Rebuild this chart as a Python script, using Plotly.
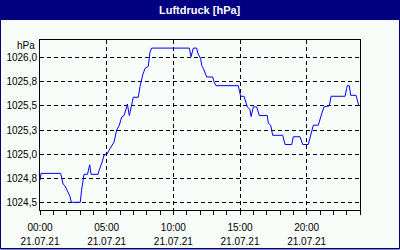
import plotly.graph_objects as go

# hours since 00:00 on 21.07.21
hours = [0.0, 0.075, 1.55, 1.65, 1.73, 1.88, 2.03, 2.1, 2.25, 2.35, 3.02, 3.11, 3.23, 3.3, 3.56, 3.73,
         3.83, 4.35, 4.43, 4.58, 4.69, 4.8, 5.03, 5.18, 5.38, 5.55, 5.75, 5.95, 6.13, 6.3, 6.5, 6.55,
         6.7, 6.83, 7.0, 7.37, 7.5, 7.7, 7.88, 8.12, 8.25, 8.38, 11.2, 11.33, 11.5, 11.75, 11.83,
         12.05, 12.13, 12.25, 12.38, 12.5, 12.95, 13.05, 13.2, 14.87, 14.95, 15.05, 15.3, 15.45,
         15.55, 15.75, 15.83, 15.95, 16.0, 16.25, 16.37, 16.45, 17.05, 17.12, 17.3, 17.45, 18.2,
         18.3, 18.38, 18.88, 19.0, 19.5, 19.63, 19.7, 20.12, 20.25, 20.38, 20.5, 20.87, 21.0, 21.13,
         21.3, 21.7, 21.83, 22.88, 23.0, 23.05, 23.2, 23.3, 23.7, 23.8, 23.9, 24.0]
pressure = [1024.73, 1024.80, 1024.80, 1024.75, 1024.69, 1024.67, 1024.62, 1024.59, 1024.56, 1024.50,
            1024.50, 1024.62, 1024.75, 1024.79, 1024.79, 1024.89, 1024.79, 1024.79, 1024.83, 1024.88,
            1024.93, 1024.99, 1025.00, 1025.04, 1025.09, 1025.125, 1025.25, 1025.30, 1025.385, 1025.40,
            1025.49, 1025.52, 1025.40, 1025.47, 1025.59, 1025.59, 1025.70, 1025.82, 1025.89, 1025.91,
            1026.06, 1026.10, 1026.10, 1026.01, 1026.10, 1026.10, 1026.05, 1025.99, 1025.92, 1025.89,
            1025.85, 1025.80, 1025.80, 1025.75, 1025.71, 1025.71, 1025.66, 1025.60, 1025.60, 1025.54,
            1025.49, 1025.46, 1025.39, 1025.46, 1025.49, 1025.49, 1025.44, 1025.40, 1025.40, 1025.32,
            1025.30, 1025.195, 1025.195, 1025.125, 1025.10, 1025.10, 1025.18, 1025.18, 1025.125, 1025.10,
            1025.10, 1025.16, 1025.23, 1025.30, 1025.30, 1025.37, 1025.42, 1025.49, 1025.50, 1025.60,
            1025.60, 1025.68, 1025.71, 1025.71, 1025.61, 1025.61, 1025.56, 1025.51, 1025.50]

x_tickvals = [0, 5, 10, 15, 20]
x_time_text = ["00:00", "05:00", "10:00", "15:00", "20:00"]
x_date_text = ["21.07.21", "21.07.21", "21.07.21", "21.07.21", "21.07.21"]
y_tickvals = [1024.5, 1024.75, 1025.0, 1025.25, 1025.5, 1025.75, 1026.0]
y_ticktext = ["1024,5", "1024,8", "1025,0", "1025,3", "1025,5", "1025,8", "1026,0"]

W, H = 400, 250
L, R, T, B = 40, 360, 40, 210
NAVY = "#000080"
BG = "#F8FCF8"
FONT = "Liberation Sans"


def px(xp):
    return (xp - L) / (R - L)


def py(yp):
    return (B - yp) / (B - T)


fig = go.Figure()
fig.add_trace(go.Scatter(x=hours, y=pressure, mode="lines",
                         line=dict(color="#0000FF", width=1), hoverinfo="skip"))
# invisible trace to activate the date-label axis
fig.add_trace(go.Scatter(x=[hours[0]], y=[pressure[0]], xaxis="x2", mode="lines",
                         line=dict(width=0), hoverinfo="skip", showlegend=False))

grid = dict(showgrid=True, gridcolor="black", gridwidth=1, griddash="4px,3px")
fig.update_layout(
    xaxis=dict(range=[0, 24], tickvals=x_tickvals, ticktext=x_time_text,
               showline=True, linecolor="black", linewidth=1, mirror=True,
               ticks="outside", ticklen=4, tickcolor="black", tickwidth=1,
               minor=dict(dtick=1, ticks="outside", ticklen=4, tickcolor="black", showgrid=False),
               zeroline=False, ticklabelstandoff=4, automargin=False,
               tickfont=dict(family=FONT, size=10, color="black"), **grid),
    xaxis2=dict(range=[0, 24], tickvals=x_tickvals, ticktext=x_date_text, overlaying="x",
                anchor="y", side="bottom", showline=False, showgrid=False, zeroline=False,
                ticks="", ticklabelstandoff=24, automargin=False,
                tickfont=dict(family=FONT, size=10, color="black")),
    yaxis=dict(range=[1024.42, 1026.184], tickvals=y_tickvals, ticktext=y_ticktext,
               showline=True, linecolor="black", linewidth=1, mirror=True,
               ticks="", zeroline=False, automargin=False,
               tickfont=dict(family=FONT, size=10, color="black"), **grid),
)

shapes = [
    dict(type="rect", xref="paper", yref="paper", x0=px(0), x1=px(W), y0=py(0), y1=py(20),
         fillcolor=NAVY, line=dict(width=0), layer="below"),
    dict(type="rect", xref="paper", yref="paper", x0=px(0.5), x1=px(W - 0.5), y0=py(0.5), y1=py(H - 1),
         fillcolor="rgba(0,0,0,0)", line=dict(color=NAVY, width=1)),
    dict(type="line", xref="paper", yref="paper", x0=px(0), x1=px(W), y0=py(H - 1.5), y1=py(H - 1.5),
         line=dict(color=NAVY, width=1)),
]
annotations = [
    dict(text="<b>Luftdruck [hPa]</b>", xref="paper", yref="paper", x=px(200), y=py(10),
         showarrow=False, xanchor="center", yanchor="middle",
         font=dict(family=FONT, size=11, color="white")),
    dict(text="hPa", xref="paper", yref="paper", x=px(37), y=py(45),
         showarrow=False, xanchor="right", yanchor="middle",
         font=dict(family=FONT, size=10, color="black")),
]

fig.update_layout(width=W, height=H, margin=dict(l=L, r=W - R, t=T, b=H - B),
                  paper_bgcolor=BG, plot_bgcolor=BG, showlegend=False,
                  shapes=shapes, annotations=annotations)
fig.write_html("out.html")
